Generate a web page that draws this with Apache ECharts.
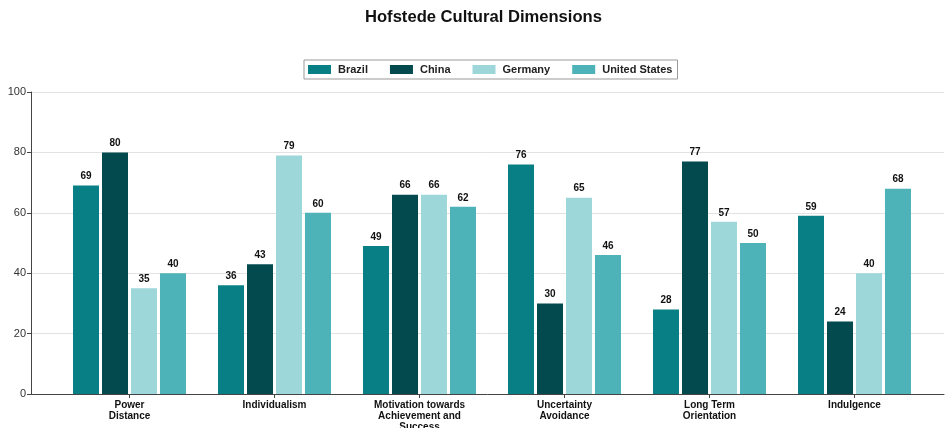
<!DOCTYPE html>
<html>
<head>
<meta charset="utf-8">
<script src="https://cdn.jsdelivr.net/npm/echarts@6/dist/echarts.min.js"></script>
<style>
  html, body { margin: 0; padding: 0; background: #fff; }
  #chart { width: 946px; height: 428px; }
</style>
</head>
<body>
<div id="chart"></div>
<script>
// Hofstede scores per dimension
const dimensions = [
  'Power\nDistance',
  'Individualism',
  'Motivation towards\nAchievement and\nSuccess',
  'Uncertainty\nAvoidance',
  'Long Term\nOrientation',
  'Indulgence'
];
const countries = ['Brazil', 'China', 'Germany', 'United States'];
const brazil = [69, 36, 49, 76, 28, 59];
const china = [80, 43, 66, 30, 77, 24];
const germany = [35, 79, 66, 65, 57, 40];
const unitedStates = [40, 60, 62, 46, 50, 68];
const yTicks = { min: 0, max: 100, interval: 20 };

const palette = ['#087f85', '#034a4f', '#9dd7da', '#4db3b8'];
const FONT = '"Liberation Sans", Arial, sans-serif';

const seriesValues = [brazil, china, germany, unitedStates];

const chart = echarts.init(document.getElementById('chart'));
chart.setOption({
  animation: false,
  color: palette,
  textStyle: { fontFamily: FONT },
  title: {
    text: 'Hofstede Cultural Dimensions',
    left: 360,
    top: 4,
    textStyle: { fontFamily: FONT, fontSize: 16.6, fontWeight: 'bold', color: '#111' }
  },
  legend: {
    data: countries,
    top: 60,
    left: 304,
    itemWidth: 23,
    itemHeight: 9,
    itemGap: 22,
    padding: [4, 5, 4, 4],
    borderColor: '#999',
    borderWidth: 1,
    icon: 'rect',
    textStyle: {
      fontFamily: FONT, fontSize: 11, fontWeight: 'bold', color: '#222',
      padding: [0, 0, 0, 2]
    }
  },
  grid: [
    // frame: value axis, gridlines and the baseline
    { left: 31, right: 2, top: 92, bottom: 34, outerBoundsMode: 'none', containLabel: false },
    // bars
    { left: 57, right: 19, top: 92, bottom: 34, outerBoundsMode: 'none', containLabel: false }
  ],
  xAxis: [
    {
      gridIndex: 0, type: 'value', min: 0, max: 1,
      axisLine: { show: true, onZero: false, lineStyle: { color: '#444', width: 1 } },
      axisTick: { show: false }, axisLabel: { show: false }, splitLine: { show: false }
    },
    {
      gridIndex: 1, type: 'category', data: dimensions,
      axisLine: { show: false },
      axisTick: { show: true, alignWithLabel: true, length: 4, lineStyle: { color: '#444' } },
      axisLabel: {
        fontFamily: FONT, fontSize: 10, fontWeight: 'bold', color: '#111',
        lineHeight: 11, margin: 6, interval: 0
      }
    }
  ],
  yAxis: [
    {
      gridIndex: 0, type: 'value', min: yTicks.min, max: yTicks.max, interval: yTicks.interval,
      axisLine: { show: true, lineStyle: { color: '#444', width: 1 } },
      axisTick: { show: true, length: 4, lineStyle: { color: '#444' } },
      axisLabel: { fontFamily: FONT, fontSize: 11, color: '#333', margin: 5 },
      splitLine: { show: true, lineStyle: { color: '#e2e2e2', width: 1 } }
    },
    {
      gridIndex: 1, type: 'value', min: yTicks.min, max: yTicks.max,
      show: false, splitLine: { show: false }
    }
  ],
  series: countries.map((name, i) => ({
    name,
    type: 'bar',
    xAxisIndex: 1,
    yAxisIndex: 1,
    data: seriesValues[i],
    barWidth: 26,
    barGap: '11.5%',
    itemStyle: { color: palette[i] },
    label: {
      show: true,
      position: 'top',
      distance: 4,
      fontFamily: FONT,
      fontSize: 10,
      fontWeight: 'bold',
      color: '#111'
    }
  }))
});
</script>
</body>
</html>
